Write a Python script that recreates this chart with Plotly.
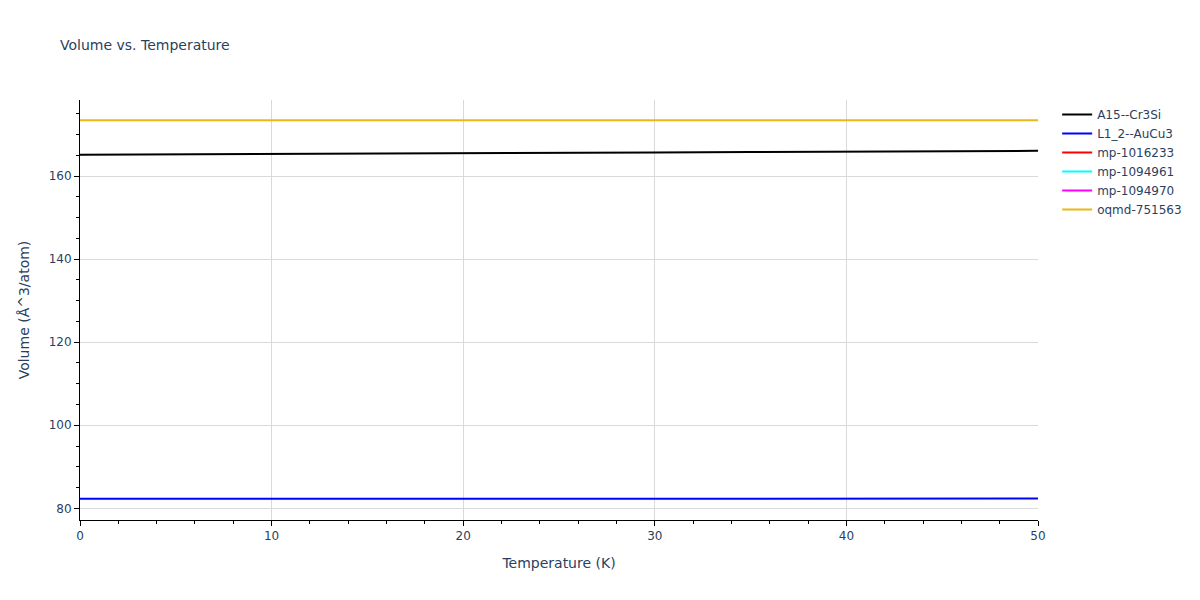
import plotly.graph_objects as go

temperature = [0, 5, 10, 15, 20, 25, 30, 35, 40, 45, 50]
vol_a15 = [165.10, 165.17, 165.27, 165.37, 165.47, 165.57, 165.67, 165.77, 165.87, 165.97, 166.07]
vol_l12 = [82.30, 82.30, 82.31, 82.31, 82.32, 82.32, 82.33, 82.33, 82.34, 82.35, 82.36]
vol_mp1016233 = [None] * len(temperature)
vol_mp1094961 = [None] * len(temperature)
vol_mp1094970 = [None] * len(temperature)
vol_oqmd = [173.40, 173.40, 173.40, 173.40, 173.40, 173.40, 173.40, 173.40, 173.40, 173.40, 173.40]

series = [
    ("A15--Cr3Si", vol_a15, "black"),
    ("L1_2--AuCu3", vol_l12, "blue"),
    ("mp-1016233", vol_mp1016233, "red"),
    ("mp-1094961", vol_mp1094961, "cyan"),
    ("mp-1094970", vol_mp1094970, "magenta"),
    ("oqmd-751563", vol_oqmd, "#EBB813"),
]

fig = go.Figure()
for name, ys, color in series:
    fig.add_trace(go.Scatter(x=temperature, y=ys, mode="lines", name=name,
                             line=dict(color=color, width=2)))

axis_common = dict(
    showline=True, linecolor="black", linewidth=1,
    ticks="outside", tickcolor="black",
    showgrid=True, gridcolor="#d9d9d9", zeroline=False,
)
fig.update_layout(
    title=dict(text="Volume vs. Temperature", font=dict(size=14)),
    template="plotly_white",
    font=dict(family="DejaVu Sans", color="#2a3f5f"),
    width=1200, height=600,
    margin=dict(l=80, r=162, t=100, b=80),
    xaxis=dict(title=dict(text="Temperature (K)", font=dict(size=14)), range=[0, 50], dtick=10,
               tickfont=dict(size=12),
               minor=dict(dtick=2, ticks="outside", tickcolor="black", showgrid=False),
               **axis_common),
    yaxis=dict(title=dict(text="Volume (Å^3/atom)", font=dict(size=14)), range=[77.2, 178.3], dtick=20,
               tickfont=dict(size=12),
               minor=dict(dtick=5, ticks="outside", tickcolor="black", showgrid=False),
               **axis_common),
    legend=dict(font=dict(size=12)),
)
fig.write_html("out.html", config={"displayModeBar": False},
               post_script="document.body.style.margin='0';")
